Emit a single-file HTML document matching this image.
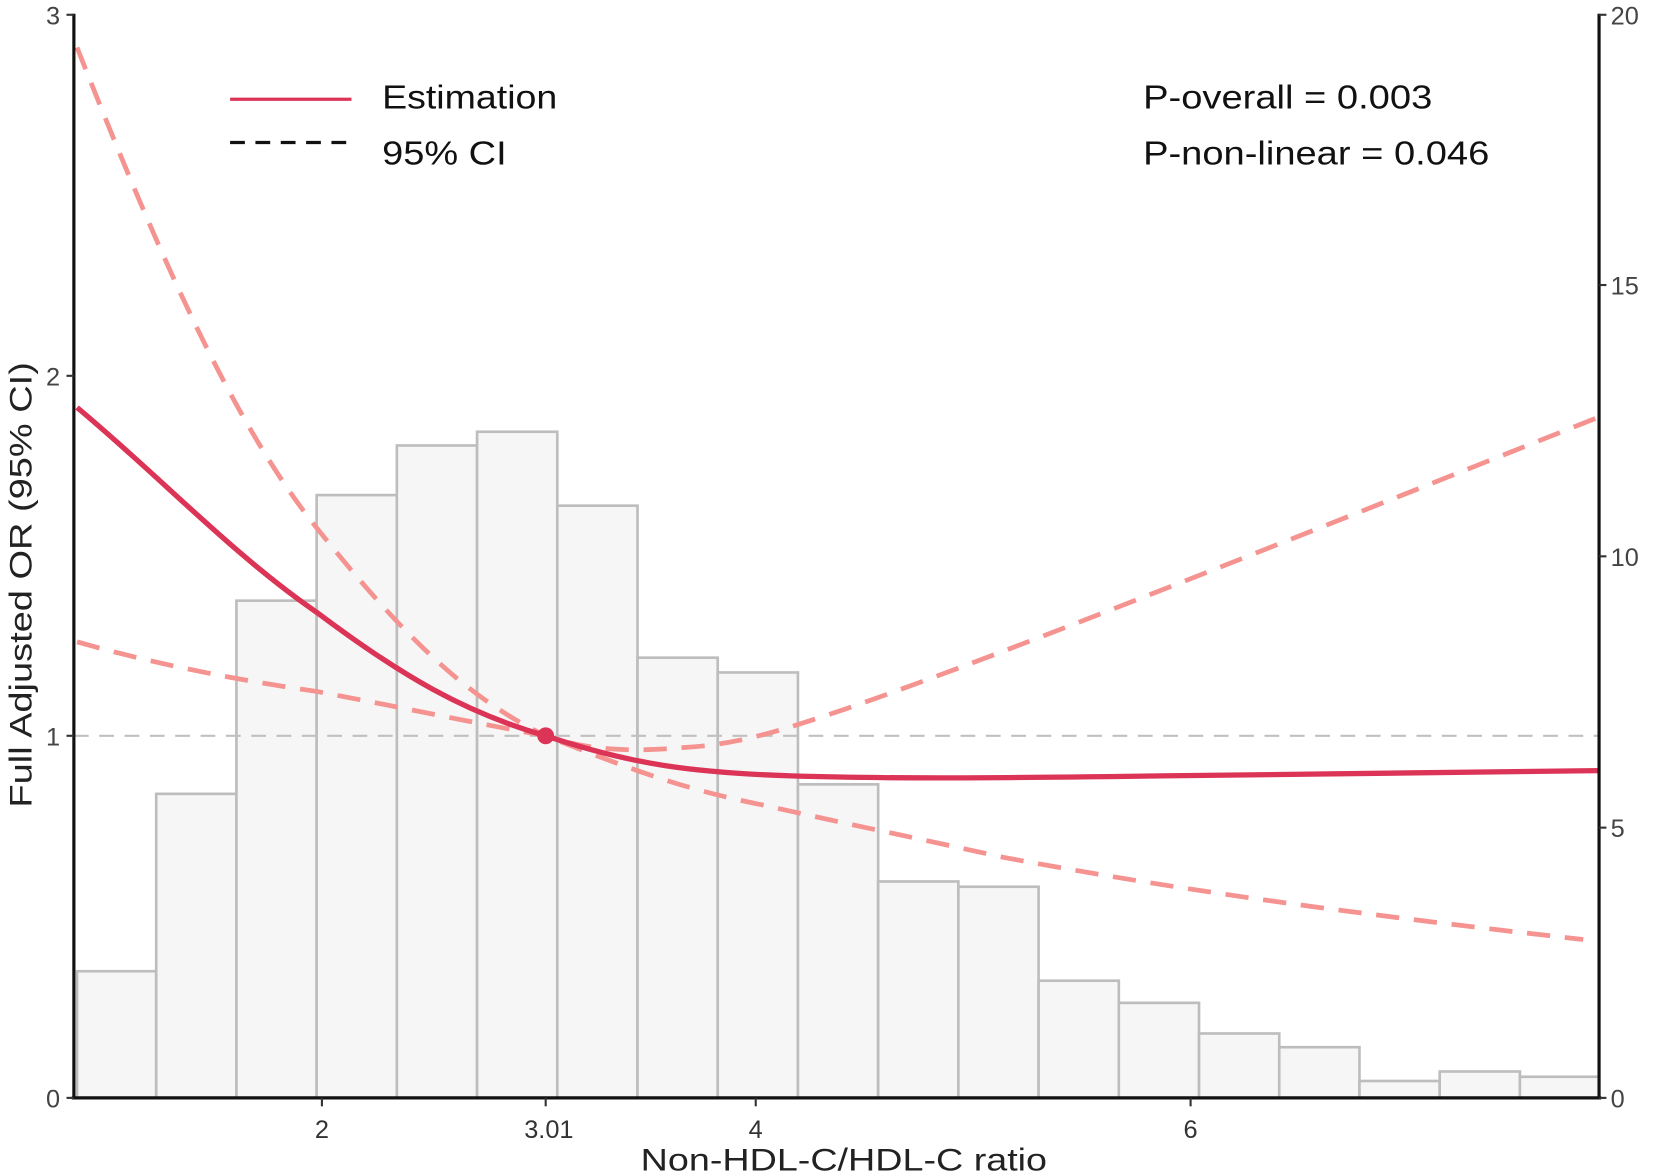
<!DOCTYPE html>
<html><head><meta charset="utf-8"><style>
html,body{margin:0;padding:0;background:#fff;}
svg{display:block;}
text{font-family:"Liberation Sans",Arial,sans-serif;}
</style></head><body>
<svg width="1655" height="1176" viewBox="0 0 1568 1114" preserveAspectRatio="none" xmlns="http://www.w3.org/2000/svg">
<g fill="#f7f6f7" stroke="#bdbdbd" stroke-width="2.5">
<rect x="73" y="920" width="75" height="120"/>
<rect x="148" y="752" width="76" height="288"/>
<rect x="224" y="569" width="76" height="471"/>
<rect x="300" y="469" width="76" height="571"/>
<rect x="376" y="422" width="76" height="618"/>
<rect x="452" y="409" width="76" height="631"/>
<rect x="528" y="479" width="76" height="561"/>
<rect x="604" y="623" width="76" height="417"/>
<rect x="680" y="637" width="76" height="403"/>
<rect x="756" y="743" width="76" height="297"/>
<rect x="832" y="835" width="76" height="205"/>
<rect x="908" y="840" width="76" height="200"/>
<rect x="984" y="929" width="76" height="111"/>
<rect x="1060" y="950" width="76" height="90"/>
<rect x="1136" y="979" width="76" height="61"/>
<rect x="1212" y="992" width="76" height="48"/>
<rect x="1288" y="1024" width="76" height="16"/>
<rect x="1364" y="1015" width="76" height="25"/>
<rect x="1440" y="1020" width="75" height="20"/>
</g>
<line x1="70" y1="697" x2="1515" y2="697" stroke="#c0c0c0" stroke-width="2" stroke-dasharray="14,10"/>
<g fill="none" stroke="#f59391" stroke-width="4.5" stroke-dasharray="22,14">
<path d="M73,45 C150,240 220,400 300,500 C380,600 440,660 517,697 C560,712 600,712 650,708 C700,705 740,692 800,672 C950,620 1200,520 1515,395"/>
<path d="M73,608 C150,630 230,645 300,655 C380,670 450,685 517,697 C600,730 650,748 720,762 C800,780 850,790 950,812 C1100,840 1250,862 1500,890"/>
</g>
<path d="M73,386 C150,450 220,525 300,580 C380,640 440,675 517,697 C600,725 660,732 750,735 C850,738 950,737 1100,735 C1250,733 1400,731 1515,730" fill="none" stroke="#dc3456" stroke-width="5"/>
<circle cx="517" cy="697" r="8" fill="#dc3456"/>
<g stroke="#111" stroke-width="3" fill="none">
<line x1="70" y1="13" x2="70" y2="1041"/>
<line x1="1515" y1="13" x2="1515" y2="1041"/>
<line x1="68" y1="1040" x2="1517" y2="1040"/>
</g>
<g stroke="#333" stroke-width="2">
<line x1="63" y1="14" x2="70" y2="14"/><line x1="63" y1="356" x2="70" y2="356"/><line x1="63" y1="697" x2="70" y2="697"/><line x1="63" y1="1040" x2="70" y2="1040"/>
<line x1="1515" y1="14" x2="1522" y2="14"/><line x1="1515" y1="270" x2="1522" y2="270"/><line x1="1515" y1="527" x2="1522" y2="527"/><line x1="1515" y1="784" x2="1522" y2="784"/><line x1="1515" y1="1040" x2="1522" y2="1040"/>
<line x1="305" y1="1040" x2="305" y2="1048"/><line x1="517" y1="1040" x2="517" y2="1048"/><line x1="716" y1="1040" x2="716" y2="1048"/><line x1="1128" y1="1040" x2="1128" y2="1048"/>
</g>
<g font-size="24" fill="#444" text-anchor="end">
<text x="57" y="23">3</text><text x="57" y="365">2</text><text x="57" y="706">1</text><text x="57" y="1049">0</text>
</g>
<g font-size="24" fill="#444" text-anchor="start">
<text x="1526" y="23">20</text><text x="1526" y="279">15</text><text x="1526" y="536">10</text><text x="1526" y="793">5</text><text x="1526" y="1049">0</text>
</g>
<g font-size="24" fill="#333" text-anchor="middle">
<text x="305" y="1078">2</text><text x="520" y="1078">3.01</text><text x="716" y="1078">4</text><text x="1128" y="1078">6</text>
</g>
<text x="607" y="1109" font-size="30" fill="#222" textLength="385" lengthAdjust="spacingAndGlyphs">Non-HDL-C/HDL-C ratio</text>
<text transform="translate(30,765) rotate(-90)" font-size="30" fill="#222" textLength="422" lengthAdjust="spacingAndGlyphs">Full Adjusted OR (95% CI)</text>
<line x1="218" y1="94" x2="333" y2="94" stroke="#dc3456" stroke-width="3"/>
<line x1="218" y1="135" x2="333" y2="135" stroke="#111" stroke-width="3" stroke-dasharray="14,10"/>
<g font-size="32" fill="#111">
<text x="362" y="103" textLength="166" lengthAdjust="spacingAndGlyphs">Estimation</text>
<text x="362" y="156" textLength="118" lengthAdjust="spacingAndGlyphs">95% CI</text>
<text x="1083" y="103" textLength="274" lengthAdjust="spacingAndGlyphs">P-overall = 0.003</text>
<text x="1083" y="156" textLength="328" lengthAdjust="spacingAndGlyphs">P-non-linear = 0.046</text>
</g>
</svg>
</body></html>
